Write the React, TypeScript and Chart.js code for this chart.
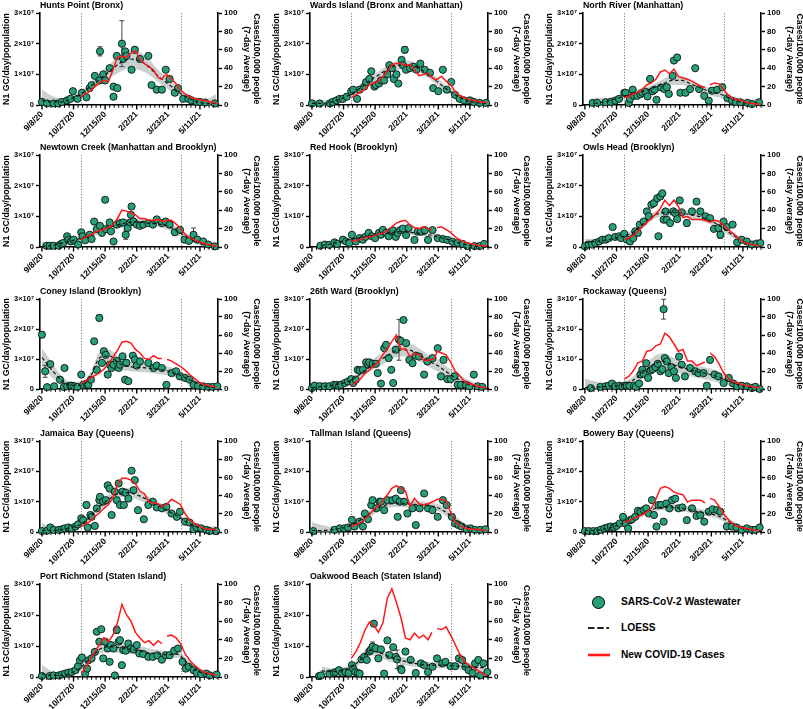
import React, { useEffect, useRef } from 'react';
import { Chart, registerables } from 'chart.js';

Chart.register(...registerables);

const FONT = "'Liberation Sans', Arial, Helvetica, sans-serif";
const GREEN = '#25a07a';
const RED = '#ff1a1a';
const BAND = 'rgba(155,172,168,0.55)';

const LOESS_DAYS = [0, 15, 30, 45, 60, 75, 90, 105, 120, 135, 150, 165, 180, 195, 210, 225, 240, 255, 270];
const CASE_DAYS = [61, 68, 75, 82, 89, 96, 103, 110, 117, 124, 131, 138, 145, 152, 159, 166, 173, 180, 186, 190, 194, 201, 208, 215, 222, 229, 236, 243, 250, 257, 264, 271];
const X_TICK_LABELS = ['9/8/20', '10/27/20', '12/15/20', '2/2/21', '3/23/21', '5/11/21'];
const Y_LEFT_LABELS = ['0', '1×10⁷', '2×10⁷', '3×10⁷'];
const PHASE_DAYS = [61, 215];
const LEFT_TITLE = 'N1 GC/day/population';
const RIGHT_TITLE = ['Cases/100,000 people', '(7-day Average)'];
const LEGEND_LABELS = ['SARS-CoV-2 Wastewater', 'LOESS', 'New COVID-19 Cases'];

// ---------- Hunts Point (Bronx)
const huntsWW = [[0,0.1],[8,0.05],[18,0.05],[25,0.05],[31,0.1],[39,0.15],[44,0.2],[48,0.45],[55,0.2],[62,0.4],[69,0.25],[74,0.55],[77,0.65],[82,0.95],[89,0.8],[90,1.75,0.15],[95,1.0],[98,0.8],[105,1.2],[111,0.27],[111,0.6],[116,1.6],[117,0.55],[124,2.0,0.75],[126,1.5],[129,1.75],[131,1.6],[139,1.15],[144,1.8,0.1],[152,1.5],[165,1.6],[170,0.65],[178,0.5],[186,0.5],[192,1.15],[198,0.85],[206,0.4],[211,0.55],[219,0.2],[227,0.2],[232,0.15],[240,0.1],[245,0.1],[253,0.08],[268,0.05]];
const huntsLoess = [0.15,0.1,0.1,0.2,0.35,0.6,0.85,1.1,1.35,1.5,1.45,1.25,0.95,0.7,0.45,0.25,0.12,0.05,0.05];
const huntsBand = [0.35,0.2,0.12,0.1,0.1,0.12,0.18,0.22,0.28,0.3,0.3,0.25,0.2,0.18,0.15,0.12,0.12,0.15,0.3];
const huntsCases = [9,12,15,20,24,27,25,38,52,53,52,56,59,50,45,42,38,30,28,32,33,28,23,16,12,9,7,6,5,4,3,2];

// ---------- Wards Island
const wardsWW = [[0,0.05],[12,0.05],[28,0.05],[32,0.1],[38,0.15],[43,0.2],[48,0.2],[54,0.27],[61,0.45],[64,0.5],[70,0.2],[74,0.5],[81,0.6],[84,0.75],[89,0.85],[92,1.1],[97,0.6],[99,0.65],[104,0.7],[107,0.8],[112,0.8],[117,1.0],[120,1.3],[124,1.2],[127,0.85],[131,1.0],[134,0.7],[139,1.47],[141,1.3],[144,1.8,0.1],[146,1.15],[152,1.2],[157,1.25],[162,1.15],[168,1.35],[175,1.15],[183,1.05],[188,0.55],[196,0.45],[203,1.15],[209,0.5],[216,0.75],[222,0.33],[229,0.2],[236,0.15],[245,0.15],[251,0.1],[260,0.07],[270,0.07]];
const wardsLoess = [0.05,0.05,0.1,0.2,0.35,0.55,0.8,1.0,1.2,1.3,1.3,1.2,1.0,0.75,0.5,0.3,0.15,0.08,0.05];
const wardsBand = [0.15,0.1,0.08,0.08,0.08,0.1,0.12,0.12,0.12,0.15,0.15,0.12,0.12,0.12,0.1,0.1,0.08,0.08,0.1];
const wardsCases = [8,11,14,17,22,24,26,31,36,44,45,45,43,44,38,32,33,35,30,28,28,31,26,22,15,10,8,6,5,4,3,3];

// ---------- North River
const northWW = [[12,0.07],[19,0.07],[32,0.09],[40,0.1],[47,0.14],[53,0.2],[61,0.4],[63,0.4],[68,0.07],[70,0.2],[74,0.5],[76,0.3],[81,0.3],[86,0.35],[89,0.4],[94,0.43],[97,0.28],[101,0.85],[105,0.45],[108,0.5],[111,0.17],[118,0.57],[123,0.52],[127,0.58],[130,0.36],[136,0.95],[138,1.45],[143,1.55],[148,0.4],[156,0.4],[163,0.52],[171,1.2],[177,0.52],[185,0.3],[192,0.14],[197,0.47],[205,0.5],[213,0.58],[221,0.22],[228,0.14],[234,0.1],[241,0.09],[252,0.07],[259,0.03],[270,0.09]];
const northLoess = [null,0.05,0.1,0.18,0.28,0.38,0.45,0.55,0.68,0.8,0.8,0.68,0.55,0.42,0.35,0.22,0.1,0.05,0.05];
const northBand = [null,0.2,0.12,0.1,0.1,0.1,0.1,0.12,0.15,0.15,0.15,0.12,0.12,0.12,0.12,0.1,0.1,0.12,0.15];
const northCases = [8,9,12,14,17,22,24,28,36,38,34,39,31,29,28,26,23,20,19,null,22,24,23,17,11,7,6,5,3,2,1,1];

// ---------- Newtown Creek
const newtownWW = [[7,0.04],[12,0.04],[18,0.04],[26,0.04],[30,0.1],[33,0.13],[39,0.35],[41,0.24],[45,0.18],[49,0.24],[56,0.08],[61,0.48],[63,0.35],[67,0.22],[74,0.4],[77,0.26],[81,0.83],[85,0.58],[90,0.69],[93,0.46],[98,1.54],[99,0.58],[105,0.8],[107,0.51],[111,0.18],[116,0.73],[121,0.78],[126,0.8],[130,0.4,0.15],[133,0.62],[137,0.8],[138,1.05],[139,1.32,0.08],[142,0.83],[147,0.73],[152,0.69],[157,0.73],[165,0.78],[172,0.73],[178,0.9],[186,0.78],[192,0.83],[198,0.73],[206,0.48],[214,0.56],[221,0.24],[228,0.2],[235,0.4,0.22],[241,0.24],[250,0.18],[258,0.08],[268,0.02]];
const newtownLoess = [0.02,0.05,0.12,0.2,0.28,0.4,0.55,0.65,0.73,0.8,0.82,0.78,0.75,0.68,0.52,0.32,0.18,0.08,0.03];
const newtownBand = [0.12,0.1,0.1,0.1,0.1,0.1,0.12,0.12,0.12,0.12,0.12,0.1,0.1,0.12,0.12,0.1,0.08,0.08,0.1];
const newtownCases = [8,11,13,16,18,19,21,24,31,40,39,37,35,31,31,29,29,30,28,28,29,29,25,20,14,10,8,6,4,3,2,1];

// ---------- Red Hook
const redHookWW = [[13,0.04],[20,0.08],[27,0.07],[35,0.15],[39,0.1],[48,0.24],[53,0.18],[58,0.13],[62,0.4],[68,0.18],[74,0.29],[79,0.24],[83,0.33],[88,0.46],[93,0.35],[98,0.29],[104,0.46],[107,0.4],[110,0.56],[115,0.46],[119,0.35],[123,0.51],[126,0.54],[130,0.33],[133,0.46],[137,0.55],[141,0.6],[146,0.39],[150,0.62],[159,0.23],[164,0.5],[169,0.5],[175,0.55],[180,0.23],[187,0.55],[195,0.29],[203,0.26],[210,0.23],[218,0.17],[226,0.13],[234,0.1],[241,0.03],[252,0.03],[260,0.03],[267,0.1]];
const redHookLoess = [null,0.05,0.1,0.18,0.25,0.3,0.36,0.42,0.46,0.5,0.48,0.45,0.4,0.33,0.25,0.15,0.07,0.03,0.05];
const redHookBand = [null,0.1,0.06,0.06,0.06,0.06,0.07,0.07,0.08,0.08,0.08,0.08,0.07,0.07,0.07,0.06,0.06,0.06,0.08];
const redHookCases = [6,7,8,10,11,12,14,15,18,22,26,28,29,24,21,20,22,20,18,null,21,22,19,16,11,8,6,4,3,2,1.5,1];

// ---------- Owls Head
const owlsWW = [[0,0.02],[6,0.08],[11,0.08],[16,0.13],[22,0.18],[27,0.24],[32,0.24],[37,0.29],[43,0.65],[47,0.33],[53,0.35],[56,0.29],[61,0.43],[65,0.24],[70,0.18],[75,0.29],[78,0.51],[82,0.46],[85,0.73],[91,0.83],[96,1.16],[99,1.0],[103,1.38],[107,1.43],[112,1.59],[114,0.35],[117,1.65],[120,1.75],[122,0.89],[125,1.16],[127,0.89],[132,0.78],[137,1.16],[140,1.1],[143,0.91],[147,1.52],[150,1.13],[158,0.78,0.1],[166,1.16],[173,1.48],[179,1.16],[187,1.0],[194,0.94],[200,0.59],[207,0.62],[210,0.4,0.12],[215,0.83],[220,0.65],[229,0.73],[236,0.15],[243,0.24],[251,0.18],[259,0.08],[266,0.11],[272,0.13]];
const owlsLoess = [0.15,0.18,0.22,0.28,0.35,0.48,0.75,1.0,1.12,1.13,1.1,1.05,0.98,0.85,0.68,0.45,0.25,0.1,0.05];
const owlsBand = [0.12,0.08,0.08,0.08,0.08,0.1,0.12,0.12,0.12,0.12,0.12,0.12,0.12,0.12,0.12,0.1,0.08,0.08,0.1];
const owlsCases = [8,10,12,17,22,27,31,36,42,51,45,51,44,32,33,30,30,30,29,28,27,29,28,24,19,15,11,7,4,3,2,1.5];

// ---------- Coney Island
const coneyWW = [[0,1.81,0.1],[5,0.59,0.2],[8,0.06],[13,0.83],[19,0.09],[28,0.31],[34,0.07],[35,0.7],[39,0.09],[44,0.11],[46,0.11],[50,0.09],[55,0.07],[61,0.48],[64,0.14],[69,0.18],[72,0.14],[76,0.31],[81,1.59],[85,0.64],[89,2.37,0.1],[93,0.87],[96,1.26],[99,1.14],[102,0.48],[105,0.81],[108,0.7],[111,0.81],[116,0.94],[119,0.7],[121,0.81],[125,1.09],[129,0.31],[131,0.87,0.1],[134,0.26],[141,1.11],[144,0.98],[147,0.78],[152,0.92],[165,0.87],[173,0.7],[178,0.78],[186,0.7],[193,0.14],[201,0.53],[208,0.59],[214,0.42],[222,0.37],[229,0.31],[235,0.14],[242,0.11],[250,0.09],[258,0.07],[265,0.07],[272,0.09]];
const coneyLoess = [1.05,0.65,0.3,0.12,0.12,0.4,1.05,1.1,0.85,0.75,0.72,0.7,0.65,0.6,0.5,0.35,0.2,0.08,0.05];
const coneyBand = [0.3,0.25,0.15,0.12,0.12,0.15,0.2,0.2,0.18,0.15,0.15,0.15,0.15,0.15,0.15,0.12,0.1,0.1,0.12];
const coneyCases = [7,9,12,15,18,22,28,35,43,52,53,51,44,40,34,33,37,34,34,null,33,31,28,25,21,16,12,8,5,4,3,2];

// ---------- 26th Ward
const ward26WW = [[0,0.03],[4,0.11],[12,0.09],[20,0.09],[27,0.09],[34,0.14],[38,0.14],[42,0.11],[45,0.14],[51,0.2],[56,0.25],[61,0.33],[64,0.2],[68,0.31],[71,0.64],[74,0.62],[79,0.64],[84,0.89],[87,0.81],[89,0.89],[94,0.84],[99,0.84],[102,0.53],[107,0.18],[112,1.36],[115,1.47],[119,1.03],[123,0.64],[126,0.2],[130,1.31],[135,1.64,0.68],[138,1.6],[142,2.3],[146,1.53],[151,0.97],[156,0.86],[161,1.11],[166,1.08],[174,0.48],[179,0.92],[187,1.03],[195,1.36,0.06],[200,0.42],[204,0.97],[210,0.33],[215,0.33],[221,0.42],[226,0.14],[231,0.14],[239,0.14],[244,0.09],[251,0.48],[257,0.09],[264,0.07]];
const ward26Loess = [0.05,0.08,0.12,0.18,0.28,0.5,0.75,0.95,1.15,1.3,1.3,1.15,0.95,0.78,0.55,0.35,0.18,0.08,0.05];
const ward26Band = [0.2,0.15,0.12,0.1,0.1,0.12,0.15,0.2,0.2,0.22,0.22,0.22,0.2,0.2,0.18,0.18,0.15,0.12,0.12];
const ward26Cases = [4,7,11,17,21,26,30,38,45,53,60,44,45,36,40,38,32,32,33,34,42,40,38,30,20,15,9,6,5,3,2,1];

// ---------- Rockaway
const rockawayWW = [[9,0.03],[24,0.07],[32,0.09],[37,0.11],[42,0.18],[47,0.09],[53,0.11],[58,0.09],[62,0.11],[65,0.11],[69,0.11],[76,0.11],[79,0.07],[84,0.18],[86,0.48],[89,0.64],[91,0.51],[95,0.86],[98,0.37],[102,0.62],[105,0.66],[109,0.73],[113,0.84],[117,0.59],[120,0.66],[122,2.66,0.33],[124,1.03],[127,0.92],[130,0.53],[134,0.73],[138,0.59],[141,0.37],[146,1.08],[150,0.81],[155,0.42],[163,0.7],[171,0.59],[176,0.53],[184,0.53],[189,0.11],[194,0.97],[201,0.48],[207,0.42],[215,0.2],[223,0.37],[230,0.18],[236,0.09],[243,0.11],[251,0.09],[259,0.03],[264,0.07],[271,0.0]];
const rockawayLoess = [0.05,0.06,0.08,0.1,0.15,0.3,0.55,0.8,0.92,0.82,0.72,0.62,0.55,0.48,0.38,0.24,0.12,0.05,0.05];
const rockawayBand = [0.3,0.2,0.12,0.1,0.1,0.12,0.2,0.25,0.28,0.25,0.2,0.2,0.2,0.2,0.18,0.15,0.12,0.12,0.15];
const rockawayCases = [11,14,20,29,31,42,43,48,50,62,58,50,42,44,31,31,26,28,30,null,40,36,28,18,12,8,7,5,4,3,2,1];

// ---------- Jamaica Bay
const jamaicaWW = [[0,0.03],[8,0.04],[13,0.15],[18,0.07],[26,0.07],[31,0.09],[35,0.12],[41,0.15],[46,0.12],[52,0.18],[56,0.25],[61,0.45],[64,0.39],[69,0.89,0.1],[71,0.15],[75,0.56],[77,0.5],[82,0.2],[85,0.78],[89,1.05],[90,1.16],[95,1.0],[99,1.05],[102,1.54],[105,1.43],[108,0.56],[113,1.33],[116,1.05],[119,1.6],[121,0.89],[125,1.33],[127,0.89],[130,1.29,0.06],[134,1.1],[139,2.02],[142,1.38,0.06],[144,1.71,0.06],[149,0.72],[158,0.42],[165,0.89],[172,1.0],[178,0.81],[186,0.78],[193,0.83],[201,0.61],[209,0.5],[214,0.67],[222,0.34],[229,0.31],[235,0.09],[240,0.15],[247,0.12],[255,0.07],[260,0.03],[270,0.03]];
const jamaicaLoess = [0.05,0.05,0.08,0.14,0.25,0.5,0.85,1.1,1.28,1.3,1.2,1.05,0.88,0.7,0.52,0.32,0.17,0.08,0.05];
const jamaicaBand = [0.25,0.12,0.08,0.08,0.08,0.1,0.12,0.15,0.15,0.15,0.15,0.12,0.12,0.12,0.1,0.1,0.08,0.1,0.15];
const jamaicaCases = [6,9,12,17,21,26,30,38,52,59,59,57,53,45,42,33,32,31,28,29,31,36,33,30,20,13,10,7,4,3,3,2];

// ---------- Tallman Island
const tallmanWW = [[2,0.03],[35,0.07],[43,0.12],[50,0.12],[56,0.15],[62,0.4],[66,0.18],[74,0.34],[79,0.18],[82,0.61],[87,0.42],[92,0.89],[94,1.05],[100,0.78],[105,1.0],[107,1.0],[112,0.72],[117,1.05],[125,1.05],[130,1.1],[133,0.5],[136,1.0],[138,1.38],[143,1.0],[148,0.61],[156,0.78],[161,0.23],[167,0.78],[174,1.27],[180,0.78],[187,0.72],[195,0.5],[203,1.05],[209,0.89],[217,0.5],[222,0.28],[227,0.23],[232,0.18],[240,0.09],[246,0.12],[253,0.07],[261,0.07],[269,0.09]];
const tallmanLoess = [0.05,0.05,0.08,0.12,0.22,0.4,0.62,0.82,0.92,0.95,0.93,0.9,0.87,0.8,0.62,0.38,0.18,0.08,0.05];
const tallmanBand = [0.28,0.18,0.1,0.08,0.08,0.1,0.12,0.12,0.12,0.12,0.12,0.12,0.12,0.12,0.12,0.1,0.08,0.08,0.1];
const tallmanCases = [6,8,10,14,19,25,29,35,41,48,51,48,45,28,37,31,30,31,33,34,36,36,34,22,11,7,5,3,3,3,2,2];

// ---------- Bowery Bay
const boweryWW = [[0,0.03],[6,0.03],[13,0.03],[19,0.03],[24,0.07],[30,0.12],[35,0.15],[40,0.18],[45,0.15],[49,0.2],[54,0.28],[59,0.5],[63,0.28],[67,0.12],[70,0.39],[73,0.42],[78,0.5],[82,0.7],[86,0.67],[91,0.72],[95,0.78],[99,0.61],[104,1.05],[107,0.56],[111,0.18],[114,0.89],[118,0.89],[122,0.34],[126,0.94],[131,0.78],[135,1.05],[140,1.1],[145,0.78],[151,0.81],[158,0.39],[166,0.78],[173,0.53],[179,0.56],[185,0.34],[192,0.67],[198,0.75],[205,0.72],[210,0.67],[220,0.18],[228,0.18],[235,0.15],[243,0.07],[251,0.12],[259,0.07],[264,0.07],[271,0.15]];
const boweryLoess = [0.05,0.05,0.1,0.18,0.3,0.45,0.62,0.75,0.82,0.82,0.78,0.72,0.65,0.6,0.5,0.32,0.15,0.08,0.05];
const boweryBand = [0.08,0.06,0.06,0.07,0.08,0.08,0.1,0.1,0.1,0.1,0.1,0.1,0.1,0.1,0.1,0.1,0.08,0.08,0.1];
const boweryCases = [11,12,15,17,19,22,26,36,48,50,48,44,42,41,33,35,35,35,32,null,37,35,28,20,14,9,6,5,4,3,2,1.5];

// ---------- Port Richmond
const portWW = [[0,0.03],[12,0.03],[18,0.05],[26,0.05],[31,0.08],[36,0.11],[41,0.14],[46,0.16],[52,0.22],[56,0.35],[59,0.54],[62,0.63],[67,0.11],[70,0.27],[72,0.54],[77,0.6],[82,0.81],[85,1.46],[89,1.14],[92,1.54],[95,0.6],[98,1.14],[102,0.92],[105,0.49],[107,1.03],[111,0.92],[113,0.05],[116,1.52,0.12],[119,1.14],[121,1.19],[124,0.38],[126,0.87,0.06],[130,0.85],[134,1.08,0.08],[138,0.92],[142,0.89],[147,1.03],[151,0.76],[157,0.74],[165,0.65],[172,0.65],[179,0.7],[186,0.56],[192,0.7],[198,0.7],[205,0.85],[211,0.92],[218,0.49],[223,0.27],[228,0.33],[235,0.22],[240,0.13],[247,0.09],[255,0.11],[260,0.05],[271,0.08]];
const portLoess = [0.1,0.05,0.05,0.12,0.3,0.6,0.9,0.98,0.95,0.9,0.85,0.78,0.75,0.72,0.74,0.45,0.2,0.1,0.05];
const portBand = [0.3,0.15,0.1,0.1,0.1,0.12,0.15,0.18,0.18,0.15,0.15,0.15,0.12,0.12,0.12,0.12,0.1,0.1,0.12];
const portCases = [4,10,19,27,35,42,38,45,58,78,67,60,48,42,37,39,34,39,36,null,44,45,42,36,25,18,13,9,6,4,3,2];

// ---------- Oakwood Beach
const oakwoodWW = [[11,0.03],[14,0.05],[27,0.11],[34,0.13],[37,0.16],[42,0.22],[47,0.13],[52,0.16],[57,0.13],[62,0.38],[64,0.27],[67,0.16],[71,0.13],[74,0.11],[77,0.57],[81,0.65],[85,0.55],[89,0.82],[91,0.87],[94,0.98,0.15],[96,1.72],[99,0.93],[103,0.6],[107,0.89],[112,0.11],[117,1.18],[120,0.71],[126,0.96],[130,0.65],[132,0.57,0.3],[138,0.27],[139,0.22],[145,0.82],[153,0.55],[161,0.13],[169,0.44],[174,0.38],[180,0.16],[187,0.33],[194,0.6],[202,0.44],[207,0.49],[215,0.35],[222,0.35],[228,0.6],[233,0.55],[238,0.33],[243,0.22],[249,0.13],[253,0.44],[258,0.55],[261,0.05],[266,0.44],[272,0.16]];
const oakwoodLoess = [null,0.2,0.18,0.2,0.3,0.55,0.85,0.78,0.65,0.55,0.48,0.42,0.38,0.38,0.38,0.35,0.33,0.3,0.3];
const oakwoodBand = [null,0.15,0.1,0.1,0.1,0.12,0.15,0.15,0.15,0.12,0.12,0.1,0.1,0.1,0.1,0.1,0.12,0.15,0.18];
const oakwoodCases = [20,27,37,50,59,56,48,58,85,95,80,64,42,40,47,42,45,40,48,null,52,51,54,45,35,25,17,13,10,7,4,2];

// layout (pixel geometry)
const COL_PLOT_LEFT = [40, 310, 583];
const ROW_PLOT_TOP = [13, 155, 299, 441, 584];
const ROW_PLOT_H = [92, 92, 90, 91, 93];
const CANVAS_W = 265;
const CANVAS_H = 142;
const PAD_TOP = 13;
const LEFT_AXIS_W = 40;
const RIGHT_AXIS_W = 47;

type Panel = { title: string; ww: number[][]; loess: (number | null)[]; band: (number | null)[]; cases: (number | null)[]; row: number; col: number };

const PANELS: Panel[] = [
  { title: 'Hunts Point (Bronx)', ww: huntsWW, loess: huntsLoess, band: huntsBand, cases: huntsCases, row: 0, col: 0 },
  { title: 'Wards Island (Bronx and Manhattan)', ww: wardsWW, loess: wardsLoess, band: wardsBand, cases: wardsCases, row: 0, col: 1 },
  { title: 'North River (Manhattan)', ww: northWW, loess: northLoess, band: northBand, cases: northCases, row: 0, col: 2 },
  { title: 'Newtown Creek (Manhattan and Brooklyn)', ww: newtownWW, loess: newtownLoess, band: newtownBand, cases: newtownCases, row: 1, col: 0 },
  { title: 'Red Hook (Brooklyn)', ww: redHookWW, loess: redHookLoess, band: redHookBand, cases: redHookCases, row: 1, col: 1 },
  { title: 'Owls Head (Brooklyn)', ww: owlsWW, loess: owlsLoess, band: owlsBand, cases: owlsCases, row: 1, col: 2 },
  { title: 'Coney Island (Brooklyn)', ww: coneyWW, loess: coneyLoess, band: coneyBand, cases: coneyCases, row: 2, col: 0 },
  { title: '26th Ward (Brooklyn)', ww: ward26WW, loess: ward26Loess, band: ward26Band, cases: ward26Cases, row: 2, col: 1 },
  { title: 'Rockaway (Queens)', ww: rockawayWW, loess: rockawayLoess, band: rockawayBand, cases: rockawayCases, row: 2, col: 2 },
  { title: 'Jamaica Bay (Queens)', ww: jamaicaWW, loess: jamaicaLoess, band: jamaicaBand, cases: jamaicaCases, row: 3, col: 0 },
  { title: 'Tallman Island (Queens)', ww: tallmanWW, loess: tallmanLoess, band: tallmanBand, cases: tallmanCases, row: 3, col: 1 },
  { title: 'Bowery Bay (Queens)', ww: boweryWW, loess: boweryLoess, band: boweryBand, cases: boweryCases, row: 3, col: 2 },
  { title: 'Port Richmond (Staten Island)', ww: portWW, loess: portLoess, band: portBand, cases: portCases, row: 4, col: 0 },
  { title: 'Oakwood Beach (Staten Island)', ww: oakwoodWW, loess: oakwoodLoess, band: oakwoodBand, cases: oakwoodCases, row: 4, col: 1 },
];

function seriesFrom(days: number[], vals: (number | null)[], off?: (number | null)[], sign = 0) {
  const out: { x: number; y: number | null }[] = [];
  days.forEach((d, i) => {
    const v = vals[i];
    if (v === null || v === undefined) {
      if (!off) out.push({ x: d, y: null });
      return;
    }
    const o = off ? (off[i] as number) : 0;
    out.push({ x: d, y: v + sign * o });
  });
  return out;
}

function buildChart(canvas: HTMLCanvasElement, p: Panel) {
  const plotH = ROW_PLOT_H[p.row];
  const decor = {
    id: 'decor' + p.row + p.col,
    beforeDatasetsDraw(chart: any) {
      const { ctx, chartArea: a, scales } = chart;
      const x = scales.x;
      ctx.save();
      ctx.strokeStyle = '#808080';
      ctx.lineWidth = 1;
      ctx.setLineDash([1.2, 1.6]);
      PHASE_DAYS.forEach((d) => {
        const px = Math.round(x.getPixelForValue(d)) + 0.5;
        ctx.beginPath();
        ctx.moveTo(px, a.top);
        ctx.lineTo(px, a.bottom);
        ctx.stroke();
      });
      ctx.restore();
    },
    beforeDatasetDraw(chart: any, args: any) {
      if (args.index !== 2) return;
      const { ctx, scales } = chart;
      ctx.save();
      ctx.strokeStyle = '#333';
      ctx.lineWidth = 0.9;
      p.ww.forEach((pt) => {
        if (pt.length < 3) return;
        const px = scales.x.getPixelForValue(pt[0]);
        const y1 = scales.y.getPixelForValue(pt[1] + pt[2]);
        const y2 = scales.y.getPixelForValue(Math.max(0, pt[1] - pt[2]));
        ctx.beginPath();
        ctx.moveTo(px, y1); ctx.lineTo(px, y2);
        ctx.moveTo(px - 2.5, y1); ctx.lineTo(px + 2.5, y1);
        ctx.moveTo(px - 2.5, y2); ctx.lineTo(px + 2.5, y2);
        ctx.stroke();
      });
      ctx.restore();
    },
    afterDraw(chart: any) {
      const { ctx, chartArea: a, scales } = chart;
      const x = scales.x;
      ctx.save();
      ctx.strokeStyle = '#000';
      for (let d = 0; d <= 273; d += 7) {
        const major = d % 49 === 0;
        const px = x.getPixelForValue(d);
        ctx.lineWidth = major ? 1.4 : 1;
        ctx.beginPath();
        ctx.moveTo(px, a.bottom);
        ctx.lineTo(px, a.bottom + (major ? 4.5 : 2.8));
        ctx.stroke();
      }
      ctx.fillStyle = '#000';
      ctx.font = `bold 8.8px ${FONT}`;
      ctx.textAlign = 'left';
      ctx.textBaseline = 'middle';
      ctx.fillText(p.title, a.left, a.top - 7.5);
      ctx.restore();
    },
  };

  const tickFont = { family: FONT, size: 8, weight: 'bold' as const };
  const titleFont = { family: FONT, size: 8.8, weight: 'bold' as const };

  return new Chart(canvas, {
    type: 'line',
    data: {
      datasets: [
        {
          label: 'cases', data: seriesFrom(CASE_DAYS, p.cases), yAxisID: 'y1',
          borderColor: RED, borderWidth: 1.5, pointRadius: 0, tension: 0, spanGaps: false,
        },
        {
          label: 'loess', data: seriesFrom(LOESS_DAYS, p.loess).filter((d) => d.y !== null), yAxisID: 'y',
          borderColor: '#111', borderWidth: 1.2, borderDash: [3.5, 2.5], pointRadius: 0,
          cubicInterpolationMode: 'monotone',
        },
        {
          label: 'ww', data: p.ww.map((pt) => ({ x: pt[0], y: pt[1] })), yAxisID: 'y',
          showLine: false, pointRadius: 3.6, pointBackgroundColor: GREEN, pointBorderColor: '#111',
          pointBorderWidth: 0.9, clip: false as any,
        },
        {
          label: 'bandHi', data: seriesFrom(LOESS_DAYS, p.loess, p.band, 1), yAxisID: 'y',
          borderWidth: 0, pointRadius: 0, fill: '+1', backgroundColor: BAND, cubicInterpolationMode: 'monotone',
        },
        {
          label: 'bandLo', data: seriesFrom(LOESS_DAYS, p.loess, p.band, -1), yAxisID: 'y',
          borderWidth: 0, pointRadius: 0, fill: false, cubicInterpolationMode: 'monotone',
        },
      ] as any,
    },
    options: {
      responsive: false,
      maintainAspectRatio: false,
      devicePixelRatio: 1,
      animation: false,
      events: [],
      layout: { padding: { top: PAD_TOP, left: 0, right: 0, bottom: 0 } },
      plugins: { legend: { display: false }, tooltip: { enabled: false } },
      scales: {
        x: {
          type: 'linear', min: -3, max: 273, position: 'bottom',
          afterFit: (s: any) => { s.height = CANVAS_H - PAD_TOP - plotH; },
          afterBuildTicks: (s: any) => {
            const t = [];
            for (let d = 0; d <= 273; d += 7) t.push({ value: d });
            s.ticks = t;
          },
          ticks: {
            autoSkip: false, minRotation: 45, maxRotation: 45, padding: 0, color: '#000',
            font: { family: FONT, size: 8.5, weight: 'bold' },
            callback: (v: any) => (Number(v) % 49 === 0 ? X_TICK_LABELS[Number(v) / 49] : ''),
          },
          grid: { drawOnChartArea: false, drawTicks: true, tickLength: 4.5, tickColor: 'rgba(0,0,0,0)' },
          border: { display: true, color: '#000', width: 1.6 },
        },
        y: {
          type: 'linear', min: 0, max: 3, position: 'left',
          afterFit: (s: any) => { s.width = LEFT_AXIS_W; },
          ticks: { stepSize: 1, padding: 2, color: '#000', font: { ...tickFont, size: 7.5 }, callback: (v: any) => Y_LEFT_LABELS[Number(v)] ?? '' },
          grid: { drawOnChartArea: false, tickLength: 4, tickColor: '#000', tickWidth: 1.4 },
          border: { display: true, color: '#000', width: 1.6 },
          title: { display: true, text: LEFT_TITLE, color: '#000', font: titleFont, padding: { top: 1.5, bottom: 0 } },
        },
        y1: {
          type: 'linear', min: 0, max: 100, position: 'right',
          afterFit: (s: any) => { s.width = RIGHT_AXIS_W; },
          ticks: { stepSize: 20, padding: 2, color: '#000', font: tickFont },
          grid: { drawOnChartArea: false, tickLength: 4, tickColor: '#000', tickWidth: 1.4 },
          border: { display: true, color: '#000', width: 1.6 },
          title: { display: true, text: RIGHT_TITLE, color: '#000', font: titleFont, padding: { top: 3, bottom: 0 } },
        },
      },
    } as any,
    plugins: [decor],
  });
}

function PanelChart({ p }: { p: Panel }) {
  const ref = useRef<HTMLCanvasElement>(null);
  useEffect(() => {
    const chart = buildChart(ref.current as HTMLCanvasElement, p);
    return () => chart.destroy();
  }, [p]);
  const left = COL_PLOT_LEFT[p.col] - LEFT_AXIS_W;
  const top = ROW_PLOT_TOP[p.row] - PAD_TOP;
  return (
    <canvas
      ref={ref}
      width={CANVAS_W}
      height={CANVAS_H}
      style={{ position: 'absolute', left, top, width: CANVAS_W, height: CANVAS_H }}
    />
  );
}

function Legend() {
  const text: React.CSSProperties = {
    position: 'absolute', left: 621, fontFamily: FONT, fontWeight: 'bold', fontSize: 10.2,
    lineHeight: '12px', color: '#000', whiteSpace: 'nowrap',
  };
  return (
    <>
      <div style={{ position: 'absolute', left: 592, top: 596, width: 13, height: 13, borderRadius: '50%', background: GREEN, border: '1.8px solid #000', boxSizing: 'border-box' }} />
      <div style={{ ...text, top: 596 }}>{LEGEND_LABELS[0]}</div>
      <svg style={{ position: 'absolute', left: 586, top: 623 }} width={26} height={10}>
        <line x1={2} y1={5} x2={23} y2={5} stroke="#222" strokeWidth={2} strokeDasharray="6.5 2.7" />
      </svg>
      <div style={{ ...text, top: 622 }}>{LEGEND_LABELS[1]}</div>
      <svg style={{ position: 'absolute', left: 586, top: 650 }} width={26} height={10}>
        <line x1={2} y1={5} x2={24} y2={5} stroke={RED} strokeWidth={2.6} />
      </svg>
      <div style={{ ...text, top: 649 }}>{LEGEND_LABELS[2]}</div>
    </>
  );
}

export default function App() {
  return (
    <div style={{ position: 'absolute', left: 0, top: 0, width: 803, height: 709, overflow: 'hidden', background: '#fff' }}>
      {PANELS.map((p) => (
        <PanelChart key={p.title} p={p} />
      ))}
      <Legend />
    </div>
  );
}
